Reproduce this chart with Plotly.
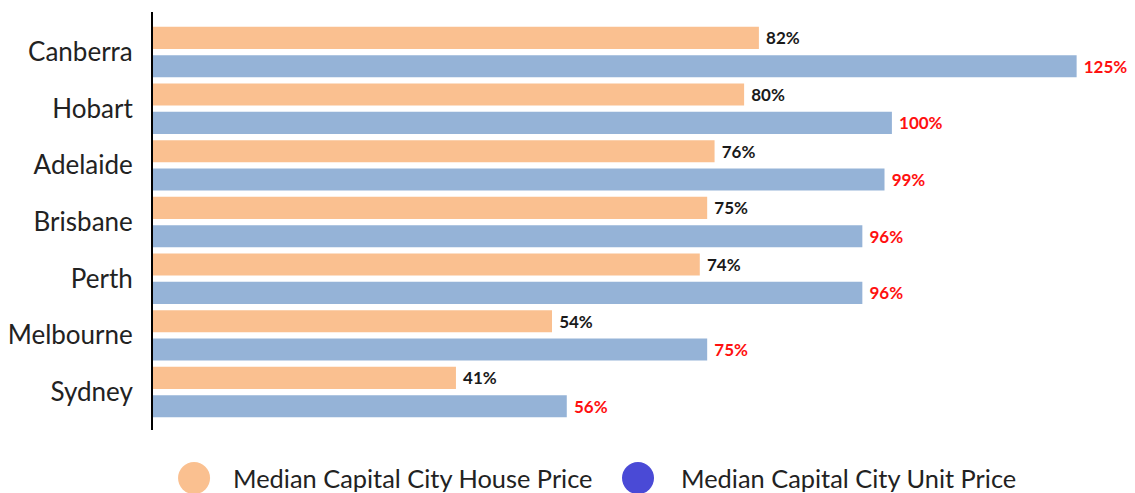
import plotly.graph_objects as go

cities = ["Canberra", "Hobart", "Adelaide", "Brisbane", "Perth", "Melbourne", "Sydney"]
house = [82, 80, 76, 75, 74, 54, 41]
unit = [125, 100, 99, 96, 96, 75, 56]
series_names = ["Median Capital City House Price", "Median Capital City Unit Price"]
bar_colors = ["#FAC090", "#95B3D7"]
legend_colors = ["#FAC090", "#4A4AD6"]
label_colors = ["#1a1a1a", "#FF1010"]

fig = go.Figure()
for vals, name, col, lcol in zip([house, unit], series_names, bar_colors, label_colors):
    fig.add_trace(go.Bar(
        y=cities, x=vals, orientation="h", name=name,
        marker=dict(color=col, line=dict(width=0)),
        text=[f" {v}%" for v in vals], textposition="outside",
        textfont=dict(family="Lato", size=17, color=lcol, weight="bold"),
        cliponaxis=False, showlegend=False,
    ))

# legend drawn with circles + text
circle_x = [0.0418, 0.4939]
text_x = [0.0790, 0.5357]
for cx, tx, name, col in zip(circle_x, text_x, series_names, legend_colors):
    fig.add_shape(type="circle", xref="paper", yref="paper",
                  xsizemode="pixel", ysizemode="pixel",
                  xanchor=cx, yanchor=-0.115,
                  x0=-16, x1=16, y0=-16, y1=16,
                  fillcolor=col, line=dict(width=0))
    fig.add_annotation(xref="paper", yref="paper", x=tx, y=-0.115,
                       xanchor="left", yanchor="middle", showarrow=False,
                       text=name, font=dict(family="Lato", size=25.4, color="#222"))

fig.update_layout(
    width=1127, height=485,
    margin=dict(l=145, r=0, t=4, b=63),
    barmode="group", bargap=0.0, bargroupgap=0.22,
    plot_bgcolor="white", paper_bgcolor="white",
    xaxis=dict(range=[0, 132.9], visible=False),
    yaxis=dict(categoryorder="array", categoryarray=cities,
               range=[6.67, -0.706], showline=True, linecolor="black", linewidth=2,
               showgrid=False, ticks="", ticklabelstandoff=13,
               tickfont=dict(family="Lato", size=26, color="#222")),
)
fig.write_html("out.html")
